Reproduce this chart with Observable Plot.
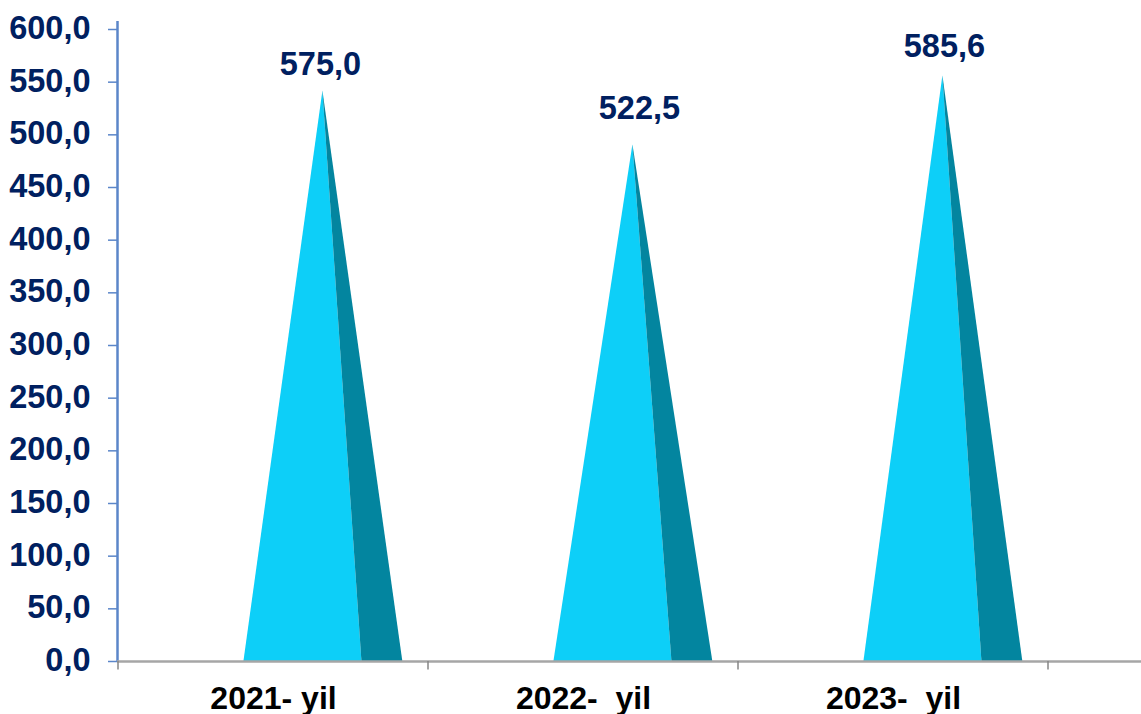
<!DOCTYPE html>
<html><head><meta charset="utf-8">
<script src="https://cdn.jsdelivr.net/npm/d3@7"></script>
<script src="https://cdn.jsdelivr.net/npm/@observablehq/plot@0.6"></script>
<style>html,body{margin:0;padding:0;background:#fff;overflow:hidden}svg{display:block}</style>
</head><body><div id="chart"></div>
<script>
const years = ["2021-\u00A0yil", "2022-\u00A0\u00A0yil", "2023-\u00A0\u00A0yil"];
const valueLabels = ["575,0", "522,5", "585,6"];
// Apex heights as drawn in the picture, on the value axis
const drawnPeaks = [542, 491, 556.5];
const slots = [0, 1, 2];
const yTicks = d3.range(0, 601, 50);
const xTicks = [0, 1, 2, 3];
const yearPos = [0.5, 0.5, 0.5];
const labelGapX = [0.0, 0.029, 0.013];
const labelGapY = [26, 36, 29];
const peakPos = 0.661, baseLeft = 0.406, baseSplit = 0.787, baseRight = 0.919;

const faces = slots.flatMap(i => [
  {s: `l${i}`, f: "#0dcff8", x: i + baseLeft, y: 0},
  {s: `l${i}`, f: "#0dcff8", x: i + peakPos, y: drawnPeaks[i]},
  {s: `l${i}`, f: "#0dcff8", x: i + baseSplit, y: 0},
  {s: `d${i}`, f: "#03859f", x: i + baseSplit, y: 0},
  {s: `d${i}`, f: "#03859f", x: i + peakPos, y: drawnPeaks[i]},
  {s: `d${i}`, f: "#03859f", x: i + baseRight, y: 0}
]);

const font = "'Liberation Sans', Arial, sans-serif";
const chart = Plot.plot({
  width: 1141, height: 714,
  marginLeft: 117, marginRight: 0, marginTop: 29, marginBottom: 53,
  style: {fontFamily: font, background: "#fff", overflow: "visible"},
  x: {type: "linear", domain: [0, 1024 / 310], range: [117, 1141], axis: null},
  y: {type: "linear", domain: [0, 600], range: [661, 29], axis: null},
  marks: [
    Plot.line(faces, {x: "x", y: "y", z: "s", fill: "f", stroke: "none", curve: "linear-closed"}),
    Plot.ruleX(xTicks.slice(0, 1), {x: d => d, y1: () => 0, y2: () => 607.6, stroke: "#5b86c9", strokeWidth: 2.5}),
    Plot.ruleY(yTicks, {y: d => d, x1: () => -0.029, x2: () => 0, stroke: "#5b86c9", strokeWidth: 1.5}),
    Plot.ruleY(yTicks.slice(0, 1), {y: d => d, stroke: "#a6a6a6", strokeWidth: 2.5}),
    Plot.ruleX(xTicks, {x: d => d, y1: () => 0, y2: () => -8, dx: 0.5, stroke: "#868686", strokeWidth: 1.5}),
    Plot.text(yTicks, {x: () => 0, y: d => d, text: d => d3.format(".1f")(d).replace(".", ","), textAnchor: "end", dx: -27, dy: -1, fontSize: 32.5, fontWeight: "bold", fill: "#002060"}),
    ...slots.map(k => Plot.text(slots, {filter: i => i === k, x: i => i + peakPos + labelGapX[i], y: i => drawnPeaks[i], text: i => valueLabels[i], dx: -2, dy: -labelGapY[k], fontSize: 32.5, fontWeight: "bold", fill: "#002060"})),
    Plot.text(slots, {x: i => i + yearPos[i], y: () => 0, text: i => years[i], dx: 1, dy: 37, fontSize: 32, fontWeight: "bold", fill: "#000"})
  ]
});
document.getElementById("chart").append(chart);
</script></body></html>
